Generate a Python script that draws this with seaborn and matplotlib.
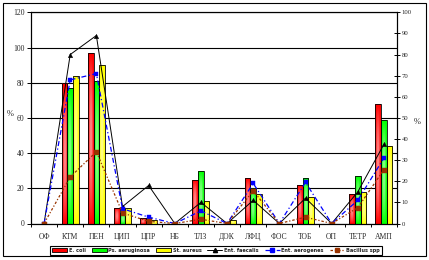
import numpy as np
import pandas as pd
import matplotlib
matplotlib.use('Agg')
import matplotlib.pyplot as plt
import seaborn as sns
from matplotlib.colors import to_rgb
from matplotlib.patches import Patch, Rectangle
from matplotlib.lines import Line2D

# Data
cats = ['ОФ', 'КТМ', 'ПЕН', 'ЦИП', 'ЦПР', 'НБ', 'ТЛЗ', 'ДОК', 'ЛФЦ', 'ФОС', 'ТОБ', 'ОП', 'ТЕТР', 'АМП']
bar_names = ['E. coli', 'Ps. aeruginosa', 'St. aureus']
ecoli = [0, 80, 97, 9, 3, 0, 25, 0, 26, 0, 22, 0, 17, 68]
psaer = [0, 77, 81, 6, 3, 0, 30, 0, 20, 0, 26, 0, 27, 59]
staur = [0, 84, 90, 9, 2, 0, 13, 2, 17, 0, 15, 0, 18, 44]
line_names = ['Ent. faecalis', 'Ent. aerogenes', 'Bacillus spp']
faecalis = [0, 80, 89, 8, 18, 0, 10, 0, 11, 0, 12, 0, 15, 37.5]
aerogenes = [0, 68, 71, 7, 3, 0, 6, 0, 19, 0, 19.5, 0, 11, 31]
bacillus = [0, 22, 34, 5, 1, 0, 2, 0, 15.5, 0, 3, 0, 7.5, 25.5]

bar_colors = ['#ff0000', '#00ff00', '#ffff00']
line_colors = ['black', '#0000ff', '#993300']

sns.set_theme(style='white')
plt.rcParams['font.family'] = ['Liberation Serif', 'DejaVu Serif']

df = pd.DataFrame({
    'cat': cats * 3,
    'val': ecoli + psaer + staur,
    'series': [bar_names[0]] * 14 + [bar_names[1]] * 14 + [bar_names[2]] * 14,
})

fig = plt.figure(figsize=(4.29, 2.60), dpi=100)
ax = fig.add_axes([31 / 429, 1 - 223.5 / 260, 366 / 429, 211.2 / 260])

sns.barplot(data=df, x='cat', y='val', hue='series', order=cats, hue_order=bar_names,
            palette=bar_colors, width=0.65, saturation=1, edgecolor='black',
            linewidth=0.6, legend=False, ax=ax)


# gradient fill: saturated at the edges, light in the middle
def gradient_fill(ax, patch, color):
    x0, y0 = patch.get_x(), patch.get_y()
    w, h = patch.get_width(), patch.get_height()
    if h <= 0:
        return
    u = np.linspace(0, 1, 24)
    v = np.linspace(0, 1, 80)
    U, V = np.meshgrid(u, v)
    f = (1 - np.abs(2 * U - 1)) * (1 - np.abs(2 * V - 1) ** 2)
    f = 0.62 * f[..., None]
    img = np.array(to_rgb(color)) * (1 - f) + f
    ax.imshow(img, extent=[x0, x0 + w, y0, y0 + h], aspect='auto', origin='lower',
              interpolation='bilinear', zorder=patch.get_zorder() - 0.05)
    patch.set_facecolor('none')


for cont, col in zip(ax.containers, bar_colors):
    for p in cont.patches:
        gradient_fill(ax, p, col)

ax.set_xlim(-0.5, len(cats) - 0.5)
ax.set_ylim(0, 120)
ax.set_yticks(range(0, 121, 20))
ax.set_axisbelow(True)
ax.yaxis.grid(True, color='black', linewidth=0.8)
ax.set_xlabel('')
ax.set_ylabel('%', rotation=0, fontsize=6)
ax.yaxis.set_label_coords(-21 / 366, 0.5)
ax.set_xticks(range(len(cats)))
ax.set_xticklabels(cats)
ax.set_xticks(np.arange(-0.5, len(cats), 1), minor=True)
ax.tick_params(axis='x', which='major', length=0, labelsize=5.5, pad=7)
ax.tick_params(axis='x', which='minor', direction='out', length=2.5, width=0.7, color='black', bottom=True)
ax.tick_params(axis='y', direction='out', length=3, width=0.7, color='black', labelsize=5.5, pad=1.5, left=True)
for s in ax.spines.values():
    s.set_color('black')
    s.set_linewidth(0.8)

# lines on the secondary axis
ax2 = ax.twinx()
pos = np.arange(len(cats))
sns.lineplot(x=pos, y=faecalis, ax=ax2, color=line_colors[0], linewidth=0.7,
             marker='^', markersize=3.2, markeredgewidth=0.3, markeredgecolor='black')
sns.lineplot(x=pos, y=aerogenes, ax=ax2, color=line_colors[1], linewidth=0.9,
             linestyle=(0, (4, 2, 1, 2)), marker='s', markersize=2.8,
             markeredgewidth=0.3, markeredgecolor='#0000ff')
sns.lineplot(x=pos, y=bacillus, ax=ax2, color=line_colors[2], linewidth=0.9,
             linestyle=(0, (2, 1.5, 1, 1.5)), marker='s', markersize=3.6,
             markeredgewidth=0.3, markeredgecolor='#993300')
ax2.set_ylim(0, 100)
ax2.set_yticks(range(0, 101, 10))
ax2.set_ylabel('%', rotation=0, fontsize=6)
ax2.yaxis.set_label_coords(1 + 20 / 366, 0.5)
ax2.tick_params(axis='y', direction='inout', length=4, width=0.7, color='black', labelsize=4.8, pad=1.5, right=True)
ax2.set_xlim(-0.5, len(cats) - 0.5)
for s in ax2.spines.values():
    s.set_color('black')
    s.set_linewidth(0.8)

# legend row at the bottom
handles = [Patch(facecolor=c, edgecolor='black', linewidth=0.6) for c in bar_colors]
handles += [
    Line2D([], [], color='black', lw=0.7, marker='^', markersize=3),
    Line2D([], [], color='#0000ff', lw=0.9, linestyle=(0, (4, 2, 1, 2)), marker='s', markersize=2.6),
    Line2D([], [], color='#993300', lw=0.9, linestyle=(0, (2, 1.5, 1, 1.5)), marker='s', markersize=3.2),
]
leg = fig.legend(handles, bar_names + line_names, loc='center', ncol=6,
                 bbox_to_anchor=(216 / 429, 1 - 250.5 / 260),
                 prop={'family': 'DejaVu Sans', 'size': 3.6, 'weight': 'bold'},
                 frameon=True, fancybox=False, edgecolor='black', framealpha=1,
                 handlelength=3.0, handleheight=0.9, handletextpad=0.3,
                 columnspacing=1.2, borderpad=0.45, borderaxespad=0)
leg.get_frame().set_linewidth(0.8)

# outer border of the chart
fig.patches.append(Rectangle((3 / 429, 4 / 260), 423 / 429, 253 / 260, transform=fig.transFigure,
                             fill=False, edgecolor='black', linewidth=0.8))

fig.savefig('out.png', dpi=100)
